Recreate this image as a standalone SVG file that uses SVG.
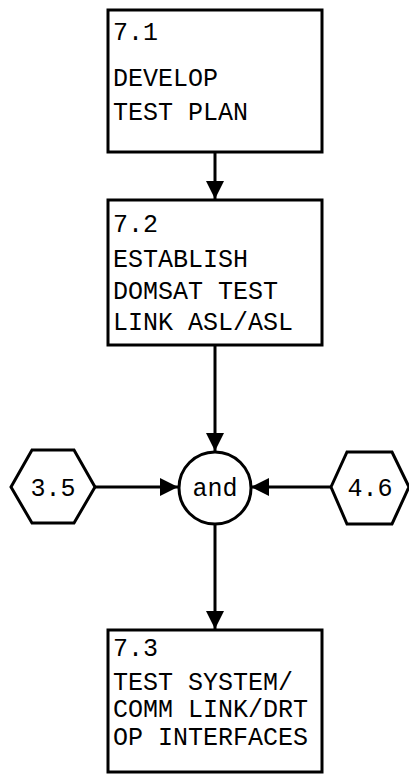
<svg xmlns="http://www.w3.org/2000/svg" width="409" height="774" viewBox="0 0 409 774">
  <style>
    .box { fill: #fff; stroke: #000; stroke-width: 3; }
    .hex { fill: #fff; stroke: #000; stroke-width: 3; stroke-linejoin: miter; }
    .gate { fill: #fff; stroke: #000; stroke-width: 3; }
    .lbl { font-family: "Liberation Mono", "DejaVu Sans Mono", monospace; font-size: 25px; fill: #000; }
    .mid { text-anchor: middle; }
    .wire { fill: none; stroke: #000; stroke-width: 3; }
  </style>
  <defs>
    <marker id="arrow" viewBox="0 0 18 18" refX="18" refY="9" markerWidth="18" markerHeight="18" markerUnits="userSpaceOnUse" orient="auto">
      <path d="M0,0 L18,9 L0,18 z" fill="#000"/>
    </marker>
  </defs>

  <!-- connectors -->
  <g id="connectors">
    <line class="wire" x1="215" y1="152" x2="215" y2="199" marker-end="url(#arrow)"/>
    <line class="wire" x1="215" y1="345" x2="215" y2="451" marker-end="url(#arrow)"/>
    <line class="wire" x1="95" y1="487" x2="178" y2="487" marker-end="url(#arrow)"/>
    <line class="wire" x1="331" y1="487" x2="251" y2="487" marker-end="url(#arrow)"/>
    <line class="wire" x1="215" y1="524" x2="215" y2="629" marker-end="url(#arrow)"/>
  </g>

  <!-- 7.1 -->
  <g id="task-7-1">
    <rect class="box" x="108" y="10" width="214" height="142"/>
    <text class="lbl" x="113" y="40">7.1</text>
    <text class="lbl" x="113" y="86">DEVELOP</text>
    <text class="lbl" x="113" y="120">TEST PLAN</text>
  </g>

  <!-- 7.2 -->
  <g id="task-7-2">
    <rect class="box" x="108" y="200" width="214" height="145"/>
    <text class="lbl" x="113" y="232">7.2</text>
    <text class="lbl" x="113" y="267">ESTABLISH</text>
    <text class="lbl" x="113" y="299">DOMSAT TEST</text>
    <text class="lbl" x="113" y="330">LINK ASL/ASL</text>
  </g>

  <!-- inputs from other tasks -->
  <g id="ref-3-5">
    <polygon class="hex" points="11,487 32,450 74,450 95,487 74,523 32,523"/>
    <text class="lbl mid" x="53" y="496">3.5</text>
  </g>
  <g id="ref-4-6">
    <polygon class="hex" points="331,487 347,452 392,452 409,487 392,524 347,524"/>
    <text class="lbl mid" x="370" y="496">4.6</text>
  </g>

  <!-- and junction -->
  <g id="and-gate">
    <circle class="gate" cx="215" cy="488" r="36"/>
    <text class="lbl mid" x="215" y="496">and</text>
  </g>

  <!-- 7.3 -->
  <g id="task-7-3">
    <rect class="box" x="108" y="630" width="214" height="142"/>
    <text class="lbl" x="113" y="656">7.3</text>
    <text class="lbl" x="113" y="690">TEST SYSTEM/</text>
    <text class="lbl" x="113" y="717">COMM LINK/DRT</text>
    <text class="lbl" x="113" y="745">OP INTERFACES</text>
  </g>
</svg>
